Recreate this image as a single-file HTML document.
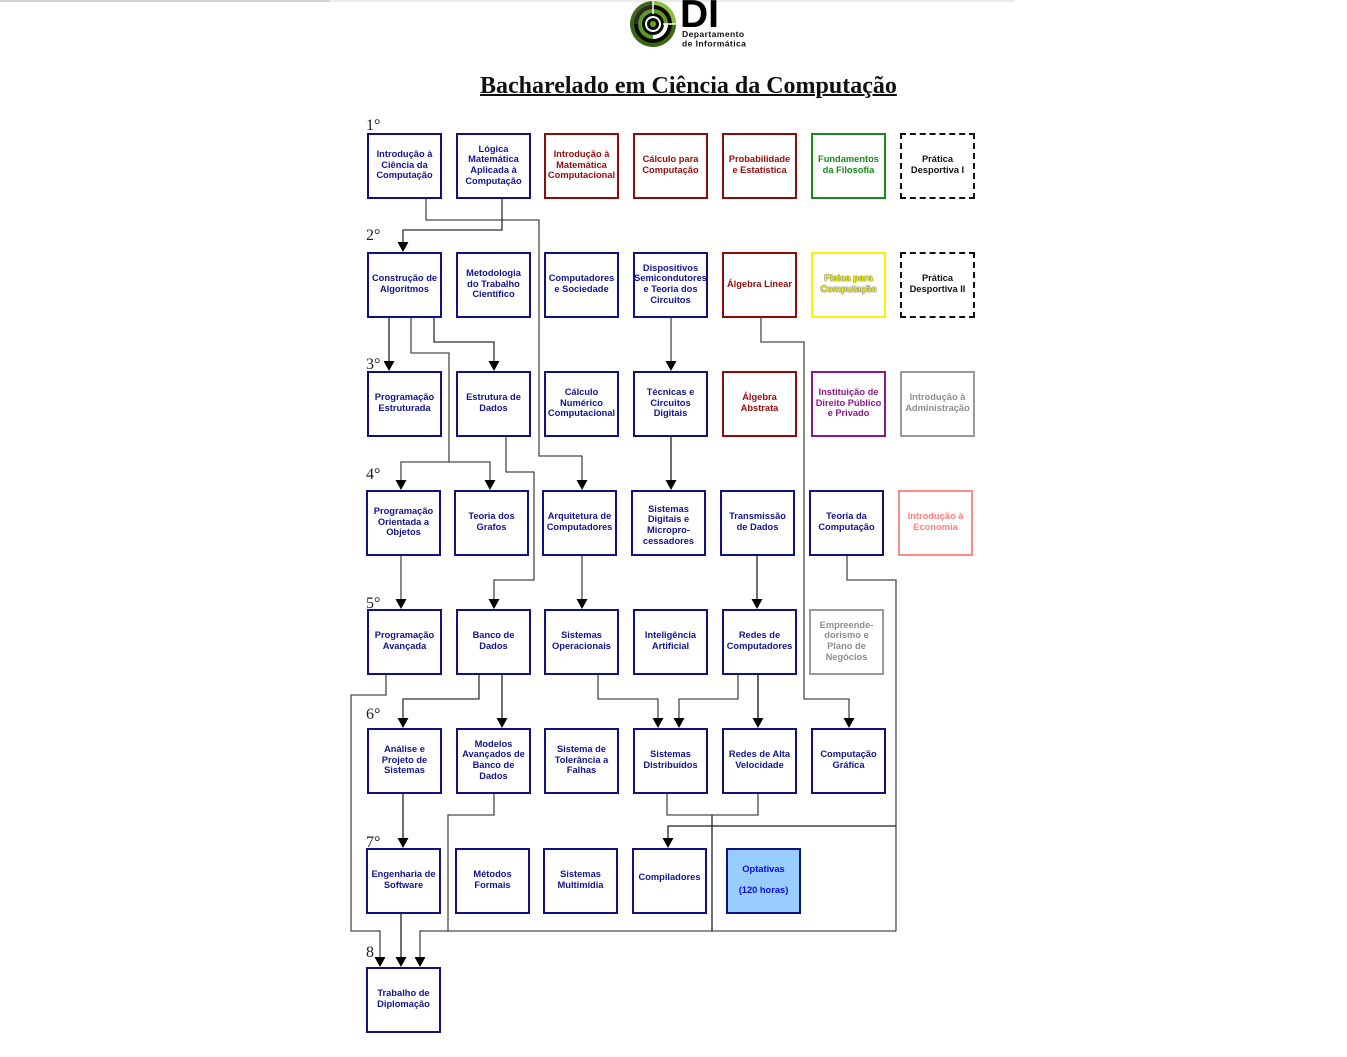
<!DOCTYPE html>
<html>
<head>
<meta charset="utf-8">
<style>
html,body{margin:0;padding:0;background:#fff;}
body{width:1347px;height:1057px;position:relative;overflow:hidden;font-family:"Liberation Sans",Arial,sans-serif;}
.b{position:absolute;width:75px;height:66px;box-sizing:border-box;border:2px solid #10107f;display:flex;align-items:center;justify-content:center;text-align:center;font-weight:bold;font-size:9.3px;line-height:10.6px;color:#14148a;white-space:nowrap;padding-bottom:2px;background:#fff;}
.r{border-color:#8e0b0b;color:#930d0d;}
.g{border-color:#1a8a1a;color:#1a8a1a;}
.d{border:2px dashed #111;color:#111;}
.y{border-color:#f5f500;color:#f0f000;text-shadow:0 0 1px #666,0 0 1px #666,0 0 1px #666;}
.p{border-color:#8a1a8a;color:#8a1a8a;}
.gr{border-color:#9a9a9a;color:#8e8e8e;}
.pk{border-color:#ff8a8a;color:#ff8080;}
.o{background:#99ccff;color:#0a0af0;border-color:#10107f;}
.lab{position:absolute;font-family:"Liberation Serif","Times New Roman",serif;font-size:16px;line-height:16px;color:#222;}
.title{position:absolute;left:480px;top:74px;font-family:"Liberation Serif","Times New Roman",serif;font-weight:bold;font-size:24px;line-height:24px;color:#111;text-decoration:underline;text-decoration-thickness:1.5px;white-space:nowrap;}
</style>
</head>
<body>
<div style="position:absolute;left:0;top:0;width:330px;height:2px;background:#d0d0d0;"></div>
<div style="position:absolute;left:330px;top:0;width:685px;height:2px;background:#ececec;"></div>

<!-- logo -->
<svg style="position:absolute;left:0;top:0" width="1347" height="60">
  <g transform="translate(653,24)">
    <circle r="23" fill="#3a6814"/>
    <path d="M0,-23 A23,23 0 0 1 23,0 L19,0 A19,19 0 0 0 0,-19 Z" fill="#8cbf3a"/>
    <circle r="19" fill="#0a0a0a"/>
    <path d="M-19,0 A19,19 0 0 1 0,-19 L0,-15 A15,15 0 0 0 -15,0 Z" fill="#2a2a2a"/>
    <circle r="15" fill="#5f9a24"/>
    <path d="M15,0 A15,15 0 0 1 0,15 L0,11 A11,11 0 0 0 11,0 Z" fill="#fff"/>
    <circle r="11" fill="#0a0a0a"/>
    <circle r="8" fill="#fff"/>
    <circle r="6" fill="#0a0a0a"/>
    <circle r="3" fill="#6aa52a"/>
    <line x1="0" y1="-23" x2="0" y2="-10" stroke="#fff" stroke-width="1.5"/>
    <line x1="10" y1="0" x2="23" y2="0" stroke="#fff" stroke-width="1.5"/>
  </g>
  <text x="680" y="27" font-family="Liberation Sans, Arial, sans-serif" font-weight="bold" font-size="39" fill="#000">DI</text>
  <text x="682" y="37" font-family="Liberation Sans, Arial, sans-serif" font-weight="bold" font-size="8.6" letter-spacing="0.4" fill="#111">Departamento</text>
  <text x="682" y="46.5" font-family="Liberation Sans, Arial, sans-serif" font-weight="bold" font-size="8.6" letter-spacing="0.4" fill="#111">de Informática</text>
</svg>

<div class="title">Bacharelado em Ciência da Computação</div>

<!-- semester labels -->
<div class="lab" style="left:366px;top:118px;">1°</div>
<div class="lab" style="left:366px;top:228px;">2°</div>
<div class="lab" style="left:366px;top:357px;">3°</div>
<div class="lab" style="left:366px;top:467px;">4°</div>
<div class="lab" style="left:366px;top:596px;">5°</div>
<div class="lab" style="left:366px;top:707px;">6°</div>
<div class="lab" style="left:366px;top:835px;">7°</div>
<div class="lab" style="left:366px;top:945px;">8</div>

<!-- Row 1 -->
<div class="b" style="left:367px;top:133px;">Introdução à<br>Ciência da<br>Computação</div>
<div class="b" style="left:456px;top:133px;">Lógica<br>Matemática<br>Aplicada à<br>Computação</div>
<div class="b r" style="left:544px;top:133px;">Introdução à<br>Matemática<br>Computacional</div>
<div class="b r" style="left:633px;top:133px;">Cálculo para<br>Computação</div>
<div class="b r" style="left:722px;top:133px;">Probabilidade<br>e Estatística</div>
<div class="b g" style="left:811px;top:133px;">Fundamentos<br>da Filosofia</div>
<div class="b d" style="left:900px;top:133px;">Prática<br>Desportiva I</div>

<!-- Row 2 -->
<div class="b" style="left:367px;top:252px;">Construção de<br>Algoritmos</div>
<div class="b" style="left:456px;top:252px;">Metodologia<br>do Trabalho<br>Científico</div>
<div class="b" style="left:544px;top:252px;">Computadores<br>e Sociedade</div>
<div class="b" style="left:633px;top:252px;">Dispositivos<br>Semicondutores<br>e Teoria dos<br>Circuitos</div>
<div class="b r" style="left:722px;top:252px;">Álgebra Linear</div>
<div class="b y" style="left:811px;top:252px;">Física para<br>Computação</div>
<div class="b d" style="left:900px;top:252px;">Prática<br>Desportiva II</div>

<!-- Row 3 -->
<div class="b" style="left:367px;top:371px;">Programação<br>Estruturada</div>
<div class="b" style="left:456px;top:371px;">Estrutura de<br>Dados</div>
<div class="b" style="left:544px;top:371px;">Cálculo<br>Numérico<br>Computacional</div>
<div class="b" style="left:633px;top:371px;">Técnicas e<br>Circuitos<br>Digitais</div>
<div class="b r" style="left:722px;top:371px;">Álgebra<br>Abstrata</div>
<div class="b p" style="left:811px;top:371px;">Instituição de<br>Direito Público<br>e Privado</div>
<div class="b gr" style="left:900px;top:371px;">Introdução à<br>Administração</div>

<!-- Row 4 -->
<div class="b" style="left:366px;top:490px;">Programação<br>Orientada a<br>Objetos</div>
<div class="b" style="left:454px;top:490px;">Teoria dos<br>Grafos</div>
<div class="b" style="left:542px;top:490px;">Arquitetura de<br>Computadores</div>
<div class="b" style="left:631px;top:490px;padding-top:4px;padding-bottom:0;">Sistemas<br>Digitais e<br>Micropro-<br>cessadores</div>
<div class="b" style="left:720px;top:490px;">Transmissão<br>de Dados</div>
<div class="b" style="left:809px;top:490px;">Teoria da<br>Computação</div>
<div class="b pk" style="left:898px;top:490px;">Introdução à<br>Economia</div>

<!-- Row 5 -->
<div class="b" style="left:367px;top:609px;">Programação<br>Avançada</div>
<div class="b" style="left:456px;top:609px;">Banco de<br>Dados</div>
<div class="b" style="left:544px;top:609px;">Sistemas<br>Operacionais</div>
<div class="b" style="left:633px;top:609px;">Inteligência<br>Artificial</div>
<div class="b" style="left:722px;top:609px;">Redes de<br>Computadores</div>
<div class="b gr" style="left:809px;top:609px;">Empreende-<br>dorismo e<br>Plano de<br>Negócios</div>

<!-- Row 6 -->
<div class="b" style="left:367px;top:728px;">Análise e<br>Projeto de<br>Sistemas</div>
<div class="b" style="left:456px;top:728px;">Modelos<br>Avançados de<br>Banco de<br>Dados</div>
<div class="b" style="left:544px;top:728px;">Sistema de<br>Tolerância a<br>Falhas</div>
<div class="b" style="left:633px;top:728px;">Sistemas<br>Distribuídos</div>
<div class="b" style="left:722px;top:728px;">Redes de Alta<br>Velocidade</div>
<div class="b" style="left:811px;top:728px;">Computação<br>Gráfica</div>

<!-- Row 7 -->
<div class="b" style="left:366px;top:848px;">Engenharia de<br>Software</div>
<div class="b" style="left:455px;top:848px;">Métodos<br>Formais</div>
<div class="b" style="left:543px;top:848px;">Sistemas<br>Multimídia</div>
<div class="b" style="left:632px;top:848px;padding-bottom:8px;">Compiladores</div>
<div class="b o" style="left:726px;top:848px;">Optativas<br><br>(120 horas)</div>

<!-- Row 8 -->
<div class="b" style="left:366px;top:967px;">Trabalho de<br>Diplomação</div>

<!-- connectors -->
<svg style="position:absolute;left:0;top:0" width="1347" height="1057">
  <g fill="none" stroke="#4a4a4a" stroke-width="1.3">
    <polyline points="426,199 426,220 539,220 539,456 582,456 582,481"/>
    <polyline points="502,199 502,230 403,230 403,243" stroke="#333"/>
    <polyline points="389,318 389,362" stroke="#222"/>
    <polyline points="411,318 411,353 449,353 449,462"/>
    <polyline points="401,481 401,462 490,462 490,481"/>
    <polyline points="434,318 434,342 494,342 494,362" stroke="#333"/>
    <polyline points="506,437 506,472 534,472 534,580 494,580 494,600"/>
    <polyline points="671,318 671,362"/>
    <polyline points="671,437 671,481" stroke="#222"/>
    <polyline points="761,318 761,342 804,342 804,699 849,699 849,719"/>
    <polyline points="401,556 401,600"/>
    <polyline points="582,556 582,600"/>
    <polyline points="757,556 757,600" stroke="#222"/>
    <polyline points="847,556 847,580 896,580 896,931"/>
    <polyline points="668,839 668,826 896,826" stroke="#222"/>
    <polyline points="386,675 386,695 351,695 351,931 380,931 380,958"/>
    <polyline points="479,675 479,699 403,699 403,719" stroke="#333"/>
    <polyline points="502,675 502,719" stroke="#222"/>
    <polyline points="598,675 598,699 658,699 658,719"/>
    <polyline points="738,675 738,699 679,699 679,719"/>
    <polyline points="758,675 758,719" stroke="#111"/>
    <polyline points="403,794 403,839" stroke="#222"/>
    <polyline points="494,794 494,815 448,815 448,931"/>
    <polyline points="667,794 667,815 758,815 758,794"/>
    <polyline points="712,815 712,931" stroke="#222"/>
    <polyline points="420,958 420,931 896,931"/>
    <polyline points="401,913 401,958" stroke="#222"/>
  </g>
  <g fill="#000">
    <polygon points="576.5,480 587.5,480 582,490"/>
    <polygon points="397.5,242 408.5,242 403,252"/>
    <polygon points="383.5,361 394.5,361 389,371"/>
    <polygon points="395.5,480 406.5,480 401,490"/>
    <polygon points="484.5,480 495.5,480 490,490"/>
    <polygon points="488.5,361 499.5,361 494,371"/>
    <polygon points="488.5,599 499.5,599 494,609"/>
    <polygon points="665.5,361 676.5,361 671,371"/>
    <polygon points="665.5,480 676.5,480 671,490"/>
    <polygon points="843.5,718 854.5,718 849,728"/>
    <polygon points="395.5,599 406.5,599 401,609"/>
    <polygon points="576.5,599 587.5,599 582,609"/>
    <polygon points="751.5,599 762.5,599 757,609"/>
    <polygon points="662.5,838 673.5,838 668,848"/>
    <polygon points="374.5,957 385.5,957 380,967"/>
    <polygon points="397.5,718 408.5,718 403,728"/>
    <polygon points="496.5,718 507.5,718 502,728"/>
    <polygon points="652.5,718 663.5,718 658,728"/>
    <polygon points="673.5,718 684.5,718 679,728"/>
    <polygon points="752.5,718 763.5,718 758,728"/>
    <polygon points="397.5,838 408.5,838 403,848"/>
    <polygon points="414.5,957 425.5,957 420,967"/>
    <polygon points="395.5,957 406.5,957 401,967"/>
  </g>
</svg>
</body>
</html>
